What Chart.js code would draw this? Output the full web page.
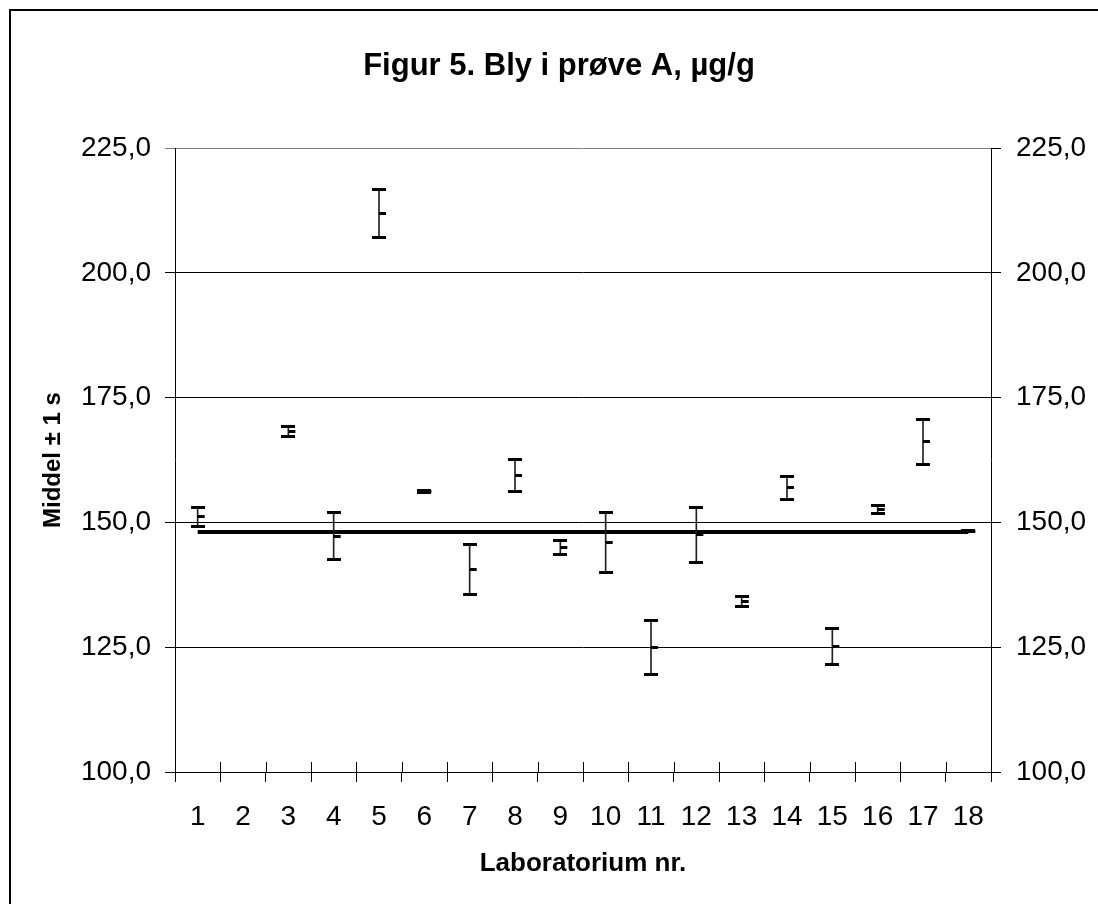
<!DOCTYPE html>
<html><head><meta charset="utf-8">
<script src="https://cdn.jsdelivr.net/npm/chart.js@4.4.1/dist/chart.umd.min.js"></script>
<style>html,body{margin:0;padding:0;background:#fff}#wrap{width:1098px;height:904px;position:relative}</style>
</head><body><div id="wrap"><canvas id="c"></canvas></div>
<script>
// ---- data ----
const labs = ['1','2','3','4','5','6','7','8','9','10','11','12','13','14','15','16','17','18'];
const means = [151.1, null, 168.25, 147.2, 212.0, 156.3, 140.6, 159.45, 144.9, 145.95, 125.0, 147.55, 134.15, 156.95, 125.15, 152.65, 166.15, 148.2];
const sds   = [2.0,   null, 1.05,   4.7,   4.8,   0.2,   5.0,   3.15,   1.4,   5.95,   5.4,   5.55,   1.05,   2.25,   3.55,   0.85,   4.55,   0.1];
const refValue = 148.1;
const refLine = labs.map(() => refValue);
const yMin = 100, yMax = 225, yStep = 25;

const highs = means.map((m, i) => m == null ? null : m + sds[i]);
const lows  = means.map((m, i) => m == null ? null : m - sds[i]);
const stems = means.map((m, i) => m == null ? null : [lows[i], highs[i]]);

// ---- marker images ----
function mk(w, h, x0, x1) {
  const c = document.createElement('canvas');
  c.width = w; c.height = h;
  const g = c.getContext('2d');
  g.fillStyle = '#000';
  g.fillRect(x0, 0, x1 - x0, h);
  return c;
}
const capImg = mk(14, 3, 0, 14);
const meanImg = mk(16, 3, 8, 15);

const FONT = "'Liberation Sans', Arial, sans-serif";
const fmt = v => v.toFixed(1).replace('.', ',');

const decor = {
  id: 'decor',
  afterDraw(chart) {
    const ctx = chart.ctx;
    const x = chart.scales.x;
    const a = chart.chartArea;
    ctx.save();
    ctx.strokeStyle = '#000';
    ctx.lineWidth = 1;
    const n = labs.length;
    ctx.beginPath();
    for (let i = 0; i <= n; i++) {
      const px = Math.round(x.left + i * x.width / n) + 0.5;
      ctx.moveTo(px, a.bottom - 10);
      ctx.lineTo(px, a.bottom);
    }
    ctx.stroke();
    // outer frame (left and top edges)
    ctx.lineWidth = 2;
    ctx.beginPath();
    ctx.moveTo(10, 904);
    ctx.lineTo(10, 10);
    ctx.lineTo(1098, 10);
    ctx.stroke();
    ctx.restore();
  }
};

new Chart(document.getElementById('c'), {
  data: {
    labels: labs,
    datasets: [
      { type: 'line', data: refLine, borderColor: '#000', borderWidth: 4, pointRadius: 0, order: 5 },
      { type: 'bar', data: stems, backgroundColor: '#222', barThickness: 1, borderWidth: 0, order: 4 },
      { type: 'line', data: highs, showLine: false, pointStyle: capImg, pointRadius: 7, order: 1 },
      { type: 'line', data: lows, showLine: false, pointStyle: capImg, pointRadius: 7, order: 1 },
      { type: 'line', data: means, showLine: false, pointStyle: meanImg, pointRadius: 8, order: 1 }
    ]
  },
  options: {
    responsive: true,
    maintainAspectRatio: false,
    animation: false,
    devicePixelRatio: 1,
    layout: { padding: { left: 20, right: 0, top: 0, bottom: 0 } },
    plugins: {
      legend: { display: false },
      tooltip: { enabled: false },
      title: {
        display: true,
        text: 'Figur 5. Bly i prøve A, µg/g',
        color: '#000',
        font: { family: FONT, size: 31, weight: 'bold' },
        padding: { top: 48, bottom: 63 }
      }
    },
    scales: {
      x: {
        type: 'category',
        offset: true,
        grid: { offset: true, drawOnChartArea: false, drawTicks: true, tickLength: 10, color: '#000', lineWidth: 1 },
        border: { display: true, color: '#000', width: 1 },
        ticks: { color: '#000', font: { family: FONT, size: 28 }, padding: 18, maxRotation: 0, autoSkip: false },
        title: { display: true, text: 'Laboratorium nr.', color: '#000', font: { family: FONT, size: 26, weight: 'bold' }, padding: { top: 0, bottom: 25 } },
        afterFit(s) { s.height = 132; }
      },
      y: {
        position: 'left',
        min: yMin, max: yMax,
        grid: {
          drawTicks: true, tickLength: 10, lineWidth: 1,
          color: c => (c.tick && c.tick.value === yMax) ? '#808080' : '#000'
        },
        border: { display: true, color: '#000', width: 1 },
        ticks: { stepSize: yStep, color: '#000', font: { family: FONT, size: 28 }, padding: 14, callback: v => fmt(v) },
        title: { display: true, text: 'Middel ± 1 s', color: '#000', font: { family: FONT, size: 24, weight: 'bold' }, padding: { top: 19, bottom: 0 } },
        afterFit(s) { s.width = 155; }
      },
      y2: {
        position: 'right',
        min: yMin, max: yMax,
        grid: { drawOnChartArea: false, drawTicks: true, tickLength: 10, color: '#000', lineWidth: 1 },
        border: { display: true, color: '#000', width: 1 },
        ticks: { stepSize: yStep, color: '#000', font: { family: FONT, size: 28 }, padding: 15, callback: v => fmt(v) },
        afterFit(s) { s.width = 107; }
      }
    }
  },
  plugins: [decor]
});
</script>
</body></html>
